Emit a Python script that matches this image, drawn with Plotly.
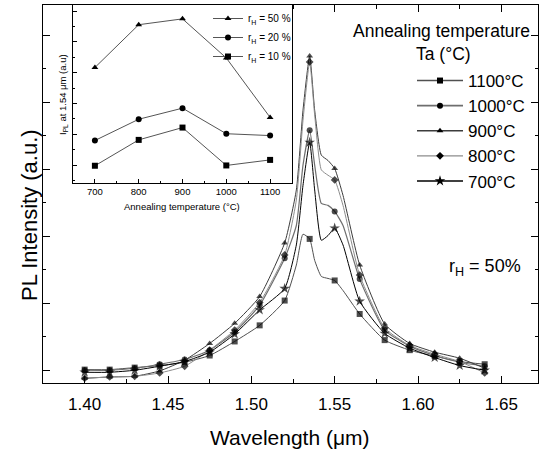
import plotly.graph_objects as go

# ---------------- data ----------------
wavelength = [1.400, 1.415, 1.430, 1.445, 1.460, 1.475, 1.490, 1.505, 1.520,
              1.527, 1.531, 1.535, 1.538, 1.542, 1.546, 1.550, 1.555, 1.565,
              1.580, 1.595, 1.610, 1.625, 1.640]
# wavelengths that carry a symbol (every 15 nm)
marker_wavelength = [1.400, 1.415, 1.430, 1.445, 1.460, 1.475, 1.490, 1.505, 1.520,
                     1.535, 1.550, 1.565, 1.580, 1.595, 1.610, 1.625, 1.640]

pl_1100 = [0.01, 0.01, 0.04, 0.07, 0.12, 0.22, 0.43, 0.67, 1.04, 1.57, 2.03, 1.96,
           1.64, 1.40, 1.37, 1.34, 1.19, 0.84, 0.45, 0.30, 0.21, 0.13, 0.09]
pl_1000 = [0.00, 0.00, 0.03, 0.09, 0.16, 0.30, 0.57, 0.97, 1.67, 2.16, 3.06, 3.58,
           3.06, 2.49, 2.46, 2.37, 2.16, 1.36, 0.60, 0.36, 0.22, 0.12, 0.06]
pl_900 = [-0.12, -0.10, -0.09, -0.01, 0.15, 0.40, 0.70, 1.10, 1.90, 2.69, 3.88, 4.69,
          3.88, 3.21, 3.13, 3.01, 2.61, 1.57, 0.69, 0.40, 0.27, 0.18, 0.03]
pl_800 = [-0.12, -0.10, -0.09, -0.04, 0.06, 0.30, 0.60, 1.01, 1.72, 2.54, 3.73, 4.60,
          3.81, 2.99, 2.91, 2.84, 2.46, 1.42, 0.63, 0.37, 0.24, 0.13, -0.04]
pl_700 = [-0.03, -0.03, 0.00, 0.06, 0.13, 0.27, 0.54, 0.90, 1.22, 1.87, 2.76, 3.40,
          2.69, 1.94, 2.01, 2.12, 1.87, 1.03, 0.55, 0.33, 0.19, 0.07, 0.00]

series_labels = ["1100°C", "1000°C", "900°C", "800°C", "700°C"]

# inset: PL intensity at 1.54 um versus annealing temperature
anneal_temp = [700, 800, 900, 1000, 1100]
ipl_50 = [4.17, 5.56, 5.75, 4.48, 2.55]
ipl_20 = [1.80, 2.49, 2.85, 2.02, 1.96]
ipl_10 = [0.98, 1.82, 2.22, 0.99, 1.17]
inset_labels = ["r<sub>H</sub> = 50 %", "r<sub>H</sub> = 20 %", "r<sub>H</sub> = 10 %"]

x_ticks = [1.40, 1.45, 1.50, 1.55, 1.60, 1.65]
x_tick_text = ["1.40", "1.45", "1.50", "1.55", "1.60", "1.65"]
inset_ticks = [700, 800, 900, 1000, 1100]

# ---------------- layout geometry (pixels) ----------------
W, H = 539, 450
L, R, T, B = 43, 538, 5, 383
FONT = "Arial, Liberation Sans, sans-serif"


def px_x(p):
    return (p - L) / (R - L)


def px_y(p):
    return (B - p) / (B - T)


fig = go.Figure()

styles = [
    (pl_1100, "square", "#505050", 1.0),
    (pl_1000, "circle", "#6e6e6e", 1.2),
    (pl_900, "triangle-up", "#3c3c3c", 1.0),
    (pl_800, "diamond", "#8c8c8c", 1.0),
    (pl_700, "star", "#000000", 1.0),
]

for (vals, sym, col, lw), name in zip(styles, series_labels):
    base = 8 if sym == "star" else 6
    sizes = [base if any(abs(w - m) < 1e-9 for m in marker_wavelength) else 0
             for w in wavelength]
    fig.add_trace(go.Scatter(
        x=wavelength, y=vals, mode="lines+markers", showlegend=False,
        line=dict(color=col, width=lw, shape="spline", smoothing=0.5),
        marker=dict(symbol=sym, size=sizes, color="black", line=dict(width=0)),
        xaxis="x", yaxis="y", hoverinfo="skip"))
    # legend entry
    fig.add_trace(go.Scatter(
        x=[None], y=[None], mode="lines+markers", name=name,
        line=dict(color=col, width=lw + 0.4),
        marker=dict(symbol=sym, size=base, color="black"),
        legend="legend"))

inset_series = [(ipl_50, "triangle-up"), (ipl_20, "circle"), (ipl_10, "square")]
for (vals, sym), name in zip(inset_series, inset_labels):
    fig.add_trace(go.Scatter(
        x=anneal_temp, y=vals, mode="lines+markers", name=name,
        line=dict(color="#555555", width=1),
        marker=dict(symbol=sym, size=6, color="black"),
        xaxis="x2", yaxis="y2", legend="legend2", hoverinfo="skip"))

axis_common = dict(showline=True, linecolor="black", linewidth=1.3, mirror="ticks",
                   ticks="inside", tickcolor="black", showgrid=False, zeroline=False)

fig.update_layout(
    width=W, height=H,
    margin=dict(l=L, r=W - R, t=T, b=H - B),
    paper_bgcolor="white", plot_bgcolor="white",
    font=dict(family=FONT, color="black"),
    xaxis=dict(range=[1.375, 1.672], tickvals=x_ticks, ticktext=x_tick_text,
               ticklen=7, tickwidth=1.3, ticklabelstandoff=5,
               minor=dict(ticks="inside", ticklen=4, tickcolor="black", dtick=0.025,
                          tick0=1.375),
               tickfont=dict(size=17), **axis_common),
    yaxis=dict(range=[-0.19, 5.45], tickvals=[0, 1, 2, 3, 4, 5], showticklabels=False,
               ticklen=7, tickwidth=1.3,
               minor=dict(ticks="inside", ticklen=3, tickcolor="black", dtick=0.5,
                          tick0=0.5),
               **axis_common),
    xaxis2=dict(domain=[px_x(73), px_x(292)], anchor="y2", range=[650, 1150],
                tickvals=inset_ticks, ticklen=4, tickwidth=1,
                minor=dict(ticks="inside", ticklen=2, tickcolor="black", dtick=50,
                           tick0=650),
                tickfont=dict(size=9.5), showline=True, linecolor="black",
                linewidth=1, mirror=True, ticks="inside", tickcolor="black",
                showgrid=False, zeroline=False),
    yaxis2=dict(domain=[px_y(183), 1.0], anchor="x2", range=[0.42, 6.2],
                tickvals=[1, 2, 3, 4, 5, 6], showticklabels=False, ticklen=4,
                minor=dict(ticks="inside", ticklen=2, tickcolor="black", dtick=0.5),
                showline=True, linecolor="black", linewidth=1, mirror=True,
                ticks="inside", tickcolor="black", showgrid=False, zeroline=False),
    legend=dict(x=px_x(412), y=px_y(63), xanchor="left", yanchor="top",
                bgcolor="rgba(0,0,0,0)", font=dict(size=17), itemwidth=46,
                tracegroupgap=0),
    legend2=dict(x=px_x(208), y=px_y(4), xanchor="left", yanchor="top",
                 bgcolor="rgba(0,0,0,0)", font=dict(size=10), itemwidth=30,
                 tracegroupgap=0),
)

annotations = [
    dict(text="Wavelength (\u03bcm)", x=px_x(290), y=px_y(437), font=dict(size=21)),
    dict(text="PL Intensity (a.u.)", x=px_x(29), y=px_y(215), textangle=-90,
         font=dict(size=22)),
    dict(text="Annealing temperature", x=px_x(441), y=px_y(31), font=dict(size=17.5)),
    dict(text="Ta (\u00b0C)", x=px_x(443), y=px_y(54), font=dict(size=17.5)),
    dict(text="r<sub>H</sub> = 50%", x=px_x(485), y=px_y(267), font=dict(size=18)),
    dict(text="Annealing temperature (\u00b0C)", x=px_x(182), y=px_y(206),
         font=dict(size=9.5)),
    dict(text="I<sub>PL</sub> at 1.54 \u03bcm (a.u)", x=px_x(63), y=px_y(95),
         textangle=-90, font=dict(size=9.5)),
]
for a in annotations:
    fig.add_annotation(xref="paper", yref="paper", showarrow=False,
                       xanchor="center", yanchor="middle", **a)

fig.write_html("out.html")
